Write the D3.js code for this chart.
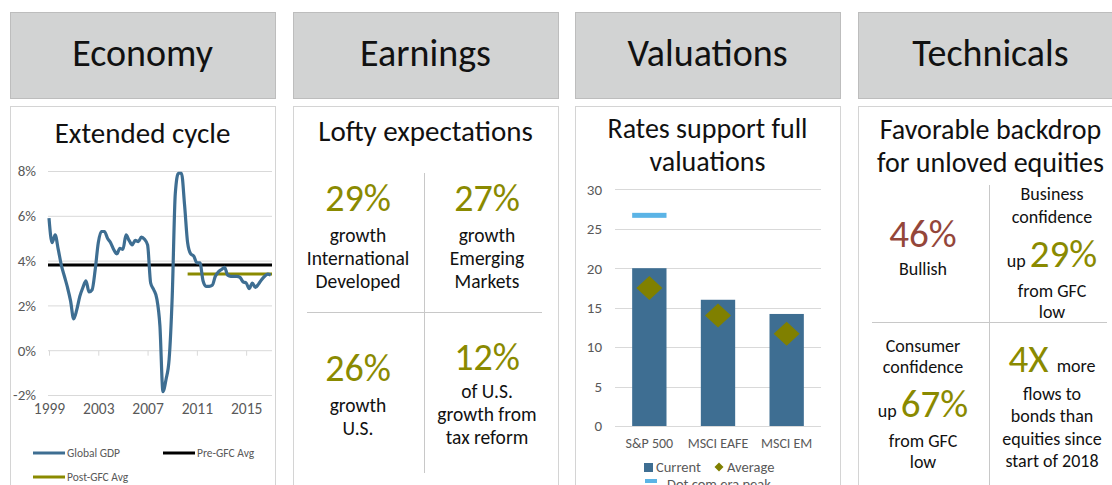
<!DOCTYPE html>
<html><head><meta charset="utf-8">
<script src="https://cdn.jsdelivr.net/npm/d3@7"></script>
<style>
body{margin:0;background:#fff;overflow:hidden;}
svg{display:block;}
text{font-family:Carlito, Calibri, Lato, sans-serif;}
</style>
</head><body>
<svg id="c" width="1112" height="485"></svg>
<script>
// ---------------- DATA ----------------
const headers = ["Economy", "Earnings", "Valuations", "Technicals"];
const panelTitles = [["Extended cycle"], ["Lofty expectations"], ["Rates support full", "valuations"], ["Favorable backdrop", "for unloved equities"]];

// Global GDP growth (%), quarterly from 1999 Q1
const gdpStartYear = 1999;
const gdpQuarterly = [
  5.9, 4.8, 5.15, 4.5, 3.8, 3.3, 2.8, 2.2, 1.4, 1.8, 2.4, 2.8,
  3.1, 2.6, 2.7, 3.6, 4.8, 5.3, 5.3, 5.0, 4.8, 4.5, 4.3, 4.55,
  4.5, 5.15, 4.9, 4.7, 4.9, 4.85, 5.05, 4.95, 4.7, 3.0, 2.7, 2.3,
  1.1, -1.85, -1.3, -0.4, 2.4, 7.0, 7.9, 7.9, 6.5, 4.8, 4.3, 4.2,
  3.9, 3.9, 3.1, 2.85, 2.85, 2.9, 3.3, 3.5, 3.6, 3.7, 3.35, 3.3,
  3.3, 3.3, 3.25, 3.05, 3.0, 2.75, 3.0, 2.8, 2.95, 3.15, 3.3, 3.4, 3.35
];
const gdpYearTicks = [1999, 2003, 2007, 2011, 2015];
const gdpPctTicks = [-2, 0, 2, 4, 6, 8];
const preGfcAvg = 3.8;
const postGfcAvg = 3.4;
const postGfcStartYear = 2010.25;
const gdpLegend = ["Global GDP", "Pre-GFC Avg", "Post-GFC Avg"];

const earnStats = ["29%", "27%", "26%", "12%"];
const earnLabels = [["growth", "International", "Developed"], ["growth", "Emerging", "Markets"], ["growth", "U.S."], ["of U.S.", "growth from", "tax reform"]];

const valCategories = ["S&P 500", "MSCI EAFE", "MSCI EM"];
const valCurrent = [20.0, 16.0, 14.2];
const valAverage = [17.5, 14.0, 11.7];
const valDotComPeak = [26.7, null, null];
const valTicks = [0, 5, 10, 15, 20, 25, 30];
const valLegend = ["Current", "Average", "Dot com era peak"];

// Technicals quadrants: lines of [text, style] segments
const techQuadrants = [
  [[["46%", "red"]], [["Bullish", "body"]]],
  [[["Business", "body"]], [["confidence", "body"]], [["up ", "body"], ["29%", "big"]], [["from GFC", "body"]], [["low", "body"]]],
  [[["Consumer", "body"]], [["confidence", "body"]], [["up ", "body"], ["67%", "big"]], [["from GFC", "body"]], [["low", "body"]]],
  [[["4X", "big"], ["  more", "body"]], [["flows to", "body"]], [["bonds than", "body"]], [["equities since", "body"]], [["start of 2018", "body"]]]
];

// ---------------- STYLE / LAYOUT ----------------
const C = {
  headerFill: "#d2d3d3", headerStroke: "#bdbdbd", panelStroke: "#d4d4d4",
  text: "#111", axis: "#595959", grid: "#d9d9d9",
  blue: "#3e6e92", olive: "#8a8a00", oliveDiamond: "#808000", red: "#94463a", lightBlue: "#5bb4e6", black: "#000"
};
const panelX = [10, 293, 575, 858];
const panelW = 265;

const svg = d3.select("#c");

// headers
panelX.forEach((x, i) => {
  svg.append("rect").attr("x", x + 0.5).attr("y", 12.5).attr("width", panelW).attr("height", 86)
    .attr("fill", C.headerFill).attr("stroke", C.headerStroke);
  svg.append("text").attr("x", x + panelW / 2).attr("y", 66).attr("text-anchor", "middle")
    .attr("font-size", 38).attr("fill", C.text).text(headers[i]);
  svg.append("rect").attr("x", x + 0.5).attr("y", 106.5).attr("width", panelW).attr("height", 420)
    .attr("fill", "#fff").attr("stroke", C.panelStroke);
});

// panel titles
const titleBase = [[143], [141], [138, 171], [139, 172]];
panelTitles.forEach((lines, i) => {
  lines.forEach((t, j) => {
    svg.append("text").attr("x", panelX[i] + panelW / 2).attr("y", titleBase[i][j])
      .attr("text-anchor", "middle").attr("font-size", lines.length > 1 ? 28 : 29).attr("fill", C.text).text(t);
  });
});

// ---------------- ECONOMY LINE CHART ----------------
{
  const g = svg.append("g");
  const x = d3.scaleLinear().domain([1999, 2017]).range([49, 270.8]);
  const y = d3.scaleLinear().domain([-2, 8]).range([395, 171]);
  const pts = gdpQuarterly.map((v, i) => ({ t: gdpStartYear + i / 4, v }));

  g.selectAll("line.grid").data(gdpPctTicks).join("line").attr("class", "grid")
    .attr("x1", 48).attr("x2", 272).attr("y1", d => y(d) + 0.5).attr("y2", d => y(d) + 0.5)
    .attr("stroke", C.grid);

  const ya = g.append("g").attr("transform", "translate(39,0)")
    .call(d3.axisLeft(y).tickValues(gdpPctTicks).tickFormat(d => d + "%").tickSize(0).tickPadding(3));
  ya.select(".domain").remove();
  ya.selectAll("text").attr("font-size", 15).attr("fill", C.axis).style("font-family", null);

  const xa = g.append("g").attr("transform", `translate(0,${y(0) + 0.5})`)
    .call(d3.axisBottom(x).tickValues(gdpYearTicks).tickFormat(d3.format("d")).tickSize(5).tickPadding(47));
  xa.select(".domain").remove();
  xa.selectAll("line").attr("stroke", C.grid);
  xa.selectAll("text").attr("font-size", 15.5).attr("fill", C.axis).style("font-family", null);

  g.append("line").attr("x1", 48).attr("x2", 272).attr("y1", y(preGfcAvg)).attr("y2", y(preGfcAvg))
    .attr("stroke", C.black).attr("stroke-width", 3);
  g.append("line").attr("x1", x(postGfcStartYear)).attr("x2", 272).attr("y1", y(postGfcAvg)).attr("y2", y(postGfcAvg))
    .attr("stroke", C.olive).attr("stroke-width", 3);

  g.append("path").datum(pts)
    .attr("d", d3.line().x(d => x(d.t)).y(d => y(d.v)).curve(d3.curveMonotoneX))
    .attr("fill", "none").attr("stroke", C.blue).attr("stroke-width", 3.2).attr("stroke-linejoin", "round");

  // legend
  const leg = [
    { x: 33, y: 453, c: C.blue, t: gdpLegend[0] },
    { x: 163, y: 453, c: C.black, t: gdpLegend[1] },
    { x: 33, y: 477, c: C.olive, t: gdpLegend[2] }
  ];
  leg.forEach(l => {
    g.append("line").attr("x1", l.x).attr("x2", l.x + 32).attr("y1", l.y).attr("y2", l.y)
      .attr("stroke", l.c).attr("stroke-width", 3);
    g.append("text").attr("x", l.x + 34).attr("y", l.y + 4).attr("font-size", 11.5).attr("fill", C.axis).text(l.t);
  });
}

// ---------------- EARNINGS ----------------
{
  const g = svg.append("g");
  g.append("line").attr("x1", 424.5).attr("x2", 424.5).attr("y1", 173).attr("y2", 473).attr("stroke", "#c8c8c8");
  g.append("line").attr("x1", 307).attr("x2", 542).attr("y1", 312.5).attr("y2", 312.5).attr("stroke", "#c8c8c8");
  const cx = [358, 487, 358, 487];
  const bigY = [211, 211, 381, 370];
  const lblY = [242, 242, 412, 398];
  earnStats.forEach((s, i) => {
    g.append("text").attr("x", cx[i]).attr("y", bigY[i]).attr("text-anchor", "middle")
      .attr("font-size", 38).attr("fill", C.olive).text(s);
    earnLabels[i].forEach((t, j) => {
      g.append("text").attr("x", cx[i]).attr("y", lblY[i] + j * 23).attr("text-anchor", "middle")
        .attr("font-size", 19.5).attr("fill", C.text).text(t);
    });
  });
}

// ---------------- VALUATIONS BAR CHART ----------------
{
  const g = svg.append("g");
  const x = d3.scaleBand().domain(valCategories).range([615, 821]).paddingInner(0.5).paddingOuter(0.25);
  const y = d3.scaleLinear().domain([0, 30]).range([426, 189.3]);

  g.selectAll("line.grid").data(valTicks).join("line").attr("class", "grid")
    .attr("x1", 615).attr("x2", 821).attr("y1", d => Math.round(y(d)) + 0.5).attr("y2", d => Math.round(y(d)) + 0.5)
    .attr("stroke", C.grid);

  const ya = g.append("g").attr("transform", "translate(604,0)")
    .call(d3.axisLeft(y).tickValues(valTicks).tickSize(0).tickPadding(2));
  ya.select(".domain").remove();
  ya.selectAll("text").attr("font-size", 15).attr("fill", C.axis).style("font-family", null);

  const xa = g.append("g").attr("transform", `translate(0,${y(0)})`)
    .call(d3.axisBottom(x).tickSize(0).tickPadding(12));
  xa.select(".domain").remove();
  xa.selectAll("text").attr("font-size", 14).attr("fill", C.axis).style("font-family", null);

  g.selectAll("rect.bar").data(valCategories).join("rect").attr("class", "bar")
    .attr("x", d => x(d)).attr("width", x.bandwidth())
    .attr("y", (d, i) => y(valCurrent[i])).attr("height", (d, i) => y(0) - y(valCurrent[i]))
    .attr("fill", C.blue);

  g.selectAll("rect.peak").data(valCategories.filter((d, i) => valDotComPeak[i] != null)).join("rect").attr("class", "peak")
    .attr("x", d => x(d)).attr("width", x.bandwidth())
    .attr("y", d => y(valDotComPeak[valCategories.indexOf(d)]) - 2.5).attr("height", 5)
    .attr("fill", C.lightBlue);

  const diamond = (cx, cy, w, h) => `M${cx},${cy - h / 2}L${cx + w / 2},${cy}L${cx},${cy + h / 2}L${cx - w / 2},${cy}Z`;
  g.selectAll("path.avg").data(valCategories).join("path").attr("class", "avg")
    .attr("d", (d, i) => diamond(x(d) + x.bandwidth() / 2, y(valAverage[i]), 26, 24))
    .attr("fill", C.oliveDiamond);

  // legend
  g.append("rect").attr("x", 644).attr("y", 463).attr("width", 9).attr("height", 9).attr("fill", C.blue);
  g.append("text").attr("x", 656).attr("y", 472).attr("font-size", 14.5).attr("fill", C.axis).text(valLegend[0]);
  g.append("path").attr("d", diamond(719, 467, 9, 9)).attr("fill", C.oliveDiamond);
  g.append("text").attr("x", 727).attr("y", 472).attr("font-size", 14.5).attr("fill", C.axis).text(valLegend[1]);
  g.append("rect").attr("x", 645).attr("y", 479).attr("width", 12).attr("height", 4).attr("fill", C.lightBlue);
  g.append("text").attr("x", 667).attr("y", 489).attr("font-size", 14.5).attr("fill", C.axis).text(valLegend[2]);
}

// ---------------- TECHNICALS ----------------
{
  const g = svg.append("g");
  g.append("line").attr("x1", 989.5).attr("x2", 989.5).attr("y1", 185).attr("y2", 490).attr("stroke", "#c8c8c8");
  g.append("line").attr("x1", 872).attr("x2", 1107).attr("y1", 322.5).attr("y2", 322.5).attr("stroke", "#c8c8c8");
  const cx = [923, 1052, 923, 1052];
  const baselines = [[247, 275], [200, 223, 267, 297, 318], [352, 373, 417, 447, 468], [372, 400, 422, 445, 467]];
  const styleOf = {
    body: { size: 18, fill: C.text },
    big: { size: 39, fill: C.olive },
    red: { size: 39, fill: C.red }
  };
  techQuadrants.forEach((lines, i) => {
    lines.forEach((segs, j) => {
      const t = g.append("text").attr("x", cx[i]).attr("y", baselines[i][j]).attr("text-anchor", "middle")
        .style("white-space", "pre");
      segs.forEach(([s, st]) => {
        t.append("tspan").attr("font-size", styleOf[st].size).attr("fill", styleOf[st].fill).text(s);
      });
    });
  });
}
</script>
</body></html>
